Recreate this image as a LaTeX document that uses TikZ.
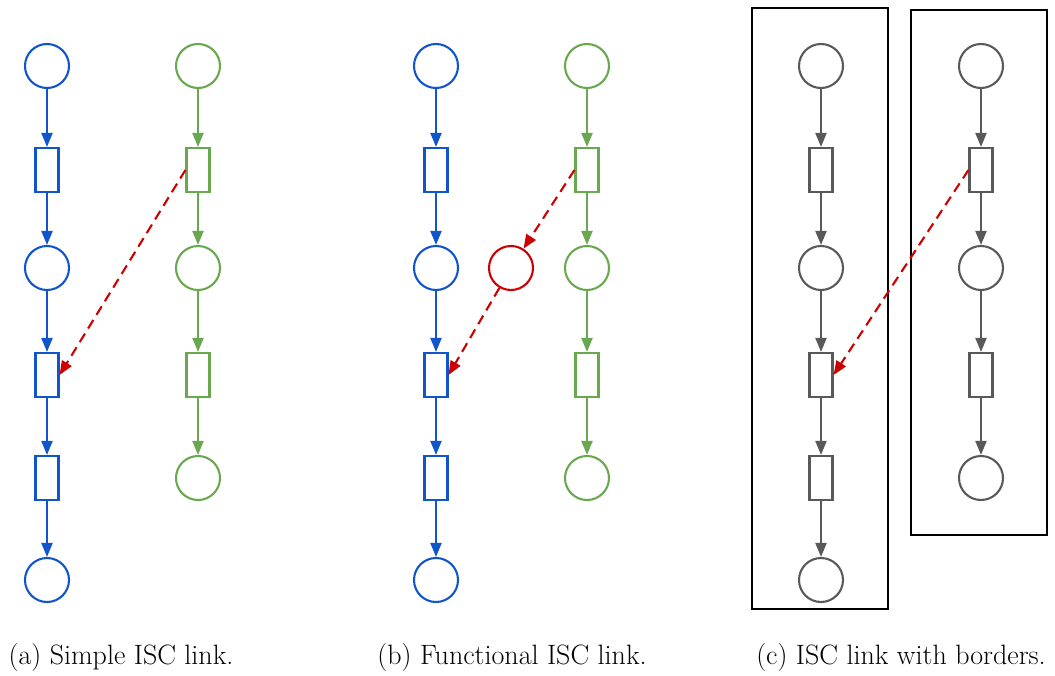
\documentclass[tikz,border=0pt]{standalone}
\usetikzlibrary{arrows.meta}
\definecolor{netblue}{HTML}{1155CC}
\definecolor{netgreen}{HTML}{6AA84F}
\definecolor{netred}{HTML}{CC0000}
\definecolor{netgray}{HTML}{595959}
\begin{document}
\begin{tikzpicture}[x=1pt,y=-1pt,
  place/.style={circle, draw, line width=2.1pt, minimum size=44pt, inner sep=0pt, fill=white},
  trans/.style={rectangle, draw, line width=2.1pt, minimum width=23pt, minimum height=44pt, inner sep=0pt, fill=white},
  flow/.style={line width=2.1pt, -{Triangle[length=14pt,width=11pt]}},
  isc/.style={netred, line width=2.1pt, dash pattern=on 10pt off 6pt, -{Triangle[length=14pt,width=11pt]}},
  border/.style={draw=black, line width=2.4pt},
  caption/.style={font=\fontsize{28}{32}\selectfont, anchor=base}]
\useasboundingbox (0,0) rectangle (1055,675);

% ---- (a) simple link ----
\begin{scope}[every node/.append style={draw=netblue}]
  \node[place] (a1) at (47,66) {};
  \node[trans] (a2) at (47,170) {};
  \node[place] (a3) at (47,268) {};
  \node[trans] (a4) at (47,375) {};
  \node[trans] (a5) at (47,478) {};
  \node[place] (a6) at (47,580) {};
\end{scope}
\begin{scope}[every node/.append style={draw=netgreen}]
  \node[place] (g1) at (198,66) {};
  \node[trans] (g2) at (198,170) {};
  \node[place] (g3) at (198,268) {};
  \node[trans] (g4) at (198,375) {};
  \node[place] (g5) at (198,478) {};
\end{scope}
\foreach \u/\v in {a1/a2,a2/a3,a3/a4,a4/a5,a5/a6}
  \draw[flow, netblue] (\u) -- (\v);
\foreach \u/\v in {g1/g2,g2/g3,g3/g4,g4/g5}
  \draw[flow, netgreen] (\u) -- (\v);
\draw[isc] (g2.west) -- (a4.east);

% ---- (b) functional link ----
\begin{scope}[every node/.append style={draw=netblue}]
  \node[place] (b1) at (436,66) {};
  \node[trans] (b2) at (436,170) {};
  \node[place] (b3) at (436,268) {};
  \node[trans] (b4) at (436,375) {};
  \node[trans] (b5) at (436,478) {};
  \node[place] (b6) at (436,580) {};
\end{scope}
\begin{scope}[every node/.append style={draw=netgreen}]
  \node[place] (h1) at (587,66) {};
  \node[trans] (h2) at (587,170) {};
  \node[place] (h3) at (587,268) {};
  \node[trans] (h4) at (587,375) {};
  \node[place] (h5) at (587,478) {};
\end{scope}
\node[place, draw=netred] (f) at (511,268) {};
\foreach \u/\v in {b1/b2,b2/b3,b3/b4,b4/b5,b5/b6}
  \draw[flow, netblue] (\u) -- (\v);
\foreach \u/\v in {h1/h2,h2/h3,h3/h4,h4/h5}
  \draw[flow, netgreen] (\u) -- (\v);
\draw[isc] (h2.west) -- (f);
\draw[isc] (f) -- (b4.east);

% ---- (c) link with borders ----
\draw[border] (752,8) rectangle (888,609);
\draw[border] (911,10) rectangle (1047,535);
\begin{scope}[every node/.append style={draw=netgray}]
  \node[place] (c1) at (821,66) {};
  \node[trans] (c2) at (821,170) {};
  \node[place] (c3) at (821,268) {};
  \node[trans] (c4) at (821,375) {};
  \node[trans] (c5) at (821,478) {};
  \node[place] (c6) at (821,580) {};
  \node[place] (d1) at (981,66) {};
  \node[trans] (d2) at (981,170) {};
  \node[place] (d3) at (981,268) {};
  \node[trans] (d4) at (981,375) {};
  \node[place] (d5) at (981,478) {};
\end{scope}
\foreach \u/\v in {c1/c2,c2/c3,c3/c4,c4/c5,c5/c6,d1/d2,d2/d3,d3/d4,d4/d5}
  \draw[flow, netgray] (\u) -- (\v);
\draw[isc] (d2.west) -- (c4.east);

% ---- captions ----
\node[caption] (capa) at (121,664) {(a) Simple ISC link.};
\node[caption] (capb) at (512,664) {(b) Functional ISC link.};
\node[caption] (capc) at (901,664) {(c) ISC link with borders.};
\end{tikzpicture}
\end{document}
